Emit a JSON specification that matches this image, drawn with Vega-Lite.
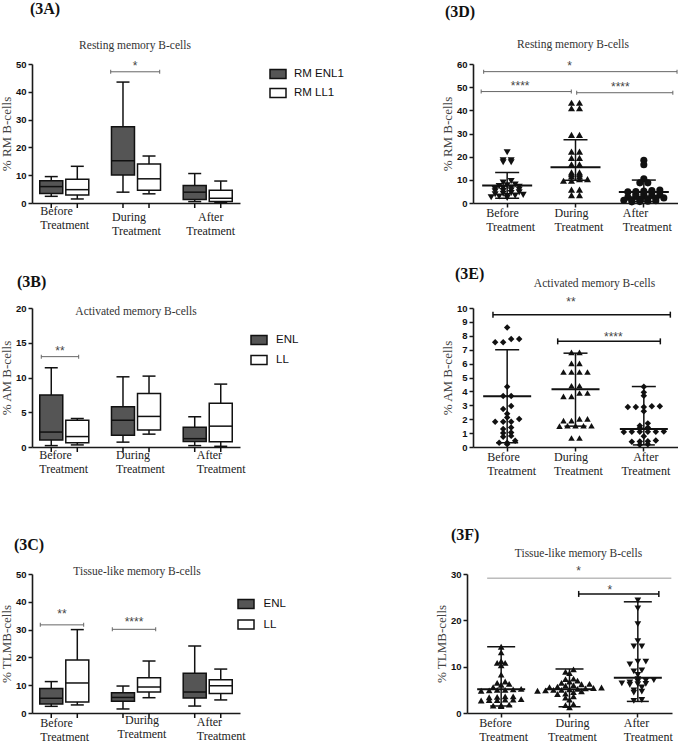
{
"$schema":"https://vega.github.io/schema/vega-lite/v6.json",
"background":"#ffffff",
"padding":{"left":0,"top":0,"right":0,"bottom":0},
"datasets":{
"boxA":[
{"g":"Before","s":"RM ENL1","min":2.4,"q1":3.4,"med":5.9,"q3":8.0,"max":9.5},
{"g":"Before","s":"RM LL1","min":1.45,"q1":2.9,"med":4.8,"q3":8.5,"max":13.2},
{"g":"During","s":"RM ENL1","min":3.9,"q1":10.1,"med":15.2,"q3":27.4,"max":43.5},
{"g":"During","s":"RM LL1","min":3.3,"q1":4.6,"med":8.7,"q3":14.0,"max":16.9},
{"g":"After","s":"RM ENL1","min":0.5,"q1":1.3,"med":3.9,"q3":6.3,"max":10.6},
{"g":"After","s":"RM LL1","min":0.2,"q1":0.5,"med":1.7,"q3":4.6,"max":7.9}],
"boxB":[
{"g":"Before","s":"ENL","min":0.2,"q1":1.0,"med":2.15,"q3":7.5,"max":11.4},
{"g":"Before","s":"LL","min":0.3,"q1":0.6,"med":1.5,"q3":3.85,"max":4.1},
{"g":"During","s":"ENL","min":0.7,"q1":1.7,"med":3.85,"q3":5.8,"max":10.1},
{"g":"During","s":"LL","min":1.85,"q1":2.45,"med":4.4,"q3":7.7,"max":10.2},
{"g":"After","s":"ENL","min":0.2,"q1":0.8,"med":1.2,"q3":2.85,"max":4.35},
{"g":"After","s":"LL","min":0.1,"q1":0.75,"med":3.0,"q3":6.3,"max":9.05}],
"boxC":[
{"g":"Before","s":"ENL","min":2.4,"q1":3.25,"med":5.3,"q3":8.85,"max":11.3},
{"g":"Before","s":"LL","min":2.9,"q1":3.95,"med":10.8,"q3":19.1,"max":30.0},
{"g":"During","s":"ENL","min":1.45,"q1":4.2,"med":5.6,"q3":7.3,"max":9.7},
{"g":"During","s":"LL","min":5.5,"q1":7.55,"med":9.35,"q3":12.7,"max":18.7},
{"g":"After","s":"ENL","min":2.5,"q1":5.4,"med":7.55,"q3":14.3,"max":24.1},
{"g":"After","s":"LL","min":4.7,"q1":7.05,"med":9.8,"q3":12.0,"max":15.8}],
"dotD":[
{"g":"Before","v":21.9},{"g":"Before","v":18.4},{"g":"Before","v":17.6},{"g":"Before","v":17.6},{"g":"Before","v":18.4},{"g":"Before","v":9.5},{"g":"Before","v":8.8},{"g":"Before","v":8.0},{"g":"Before","v":7.6},{"g":"Before","v":7.3},{"g":"Before","v":7.0},{"g":"Before","v":6.6},{"g":"Before","v":6.4},{"g":"Before","v":6.0},{"g":"Before","v":5.8},{"g":"Before","v":5.5},{"g":"Before","v":5.2},{"g":"Before","v":5.0},{"g":"Before","v":4.6},{"g":"Before","v":4.3},{"g":"Before","v":4.0},{"g":"Before","v":3.8},{"g":"Before","v":3.5},{"g":"Before","v":3.2},{"g":"Before","v":3.0},{"g":"Before","v":2.8},{"g":"Before","v":2.5},{"g":"Before","v":2.2},
{"g":"During","v":43.3},{"g":"During","v":43.3},{"g":"During","v":40.9},{"g":"During","v":40.9},{"g":"During","v":29.4},{"g":"During","v":29.4},{"g":"During","v":22.2},{"g":"During","v":22.2},{"g":"During","v":19.5},{"g":"During","v":19.5},{"g":"During","v":16.7},{"g":"During","v":16.7},{"g":"During","v":13.2},{"g":"During","v":13.2},{"g":"During","v":12.4},{"g":"During","v":12.4},{"g":"During","v":11.5},{"g":"During","v":11.5},{"g":"During","v":10.3},{"g":"During","v":10.3},{"g":"During","v":9.6},{"g":"During","v":9.6},{"g":"During","v":5.8},{"g":"During","v":5.8},{"g":"During","v":3.4},{"g":"During","v":3.4},
{"g":"After","v":18.4},{"g":"After","v":16.5},{"g":"After","v":10.5},{"g":"After","v":8.7},{"g":"After","v":8.7},{"g":"After","v":5.6},{"g":"After","v":5.4},{"g":"After","v":5.2},{"g":"After","v":5.0},{"g":"After","v":4.8},{"g":"After","v":4.6},{"g":"After","v":4.0},{"g":"After","v":3.8},{"g":"After","v":3.5},{"g":"After","v":3.2},{"g":"After","v":3.0},{"g":"After","v":2.8},{"g":"After","v":2.5},{"g":"After","v":2.2},{"g":"After","v":2.0},{"g":"After","v":1.8},{"g":"After","v":1.6},{"g":"After","v":1.4},{"g":"After","v":1.2},{"g":"After","v":1.0},{"g":"After","v":0.8},{"g":"After","v":0.6},{"g":"After","v":0.5}],
"dotE":[
{"g":"Before","v":8.6},{"g":"Before","v":7.77},{"g":"Before","v":7.53},{"g":"Before","v":7.53},{"g":"Before","v":7.77},{"g":"Before","v":4.34},{"g":"Before","v":3.67},{"g":"Before","v":3.67},{"g":"Before","v":2.95},{"g":"Before","v":2.73},{"g":"Before","v":2.4},{"g":"Before","v":2.13},{"g":"Before","v":2.01},{"g":"Before","v":1.82},{"g":"Before","v":1.82},{"g":"Before","v":1.82},{"g":"Before","v":1.41},{"g":"Before","v":1.3},{"g":"Before","v":1.05},{"g":"Before","v":1.0},{"g":"Before","v":0.8},{"g":"Before","v":0.74},{"g":"Before","v":0.45},{"g":"Before","v":0.3},{"g":"Before","v":0.3},{"g":"Before","v":0.2},
{"g":"During","v":6.81},{"g":"During","v":6.81},{"g":"During","v":6.02},{"g":"During","v":6.02},{"g":"During","v":5.4},{"g":"During","v":5.4},{"g":"During","v":5.4},{"g":"During","v":5.4},{"g":"During","v":4.41},{"g":"During","v":4.41},{"g":"During","v":3.88},{"g":"During","v":3.88},{"g":"During","v":3.64},{"g":"During","v":3.64},{"g":"During","v":2.02},{"g":"During","v":2.02},{"g":"During","v":1.9},{"g":"During","v":1.9},{"g":"During","v":1.53},{"g":"During","v":1.53},{"g":"During","v":1.53},{"g":"During","v":1.53},{"g":"During","v":1.5},{"g":"During","v":0.65},{"g":"During","v":0.65},
{"g":"After","v":4.34},{"g":"After","v":3.93},{"g":"After","v":3.69},{"g":"After","v":2.93},{"g":"After","v":2.88},{"g":"After","v":2.88},{"g":"After","v":2.88},{"g":"After","v":2.93},{"g":"After","v":2.57},{"g":"After","v":1.7},{"g":"After","v":1.53},{"g":"After","v":1.37},{"g":"After","v":1.41},{"g":"After","v":1.1},{"g":"After","v":1.1},{"g":"After","v":1.08},{"g":"After","v":1.1},{"g":"After","v":1.1},{"g":"After","v":1.12},{"g":"After","v":0.77},{"g":"After","v":0.46},{"g":"After","v":0.4},{"g":"After","v":0.38},{"g":"After","v":0.42},{"g":"After","v":0.2},{"g":"After","v":0.17}],
"dotF":[
{"g":"Before","v":14.3},{"g":"Before","v":13.1},{"g":"Before","v":11.2},{"g":"Before","v":10.8},{"g":"Before","v":10.3},{"g":"Before","v":10.8},{"g":"Before","v":8.3},{"g":"Before","v":6.8},{"g":"Before","v":6.3},{"g":"Before","v":6.1},{"g":"Before","v":6.5},{"g":"Before","v":5.6},{"g":"Before","v":5.2},{"g":"Before","v":5.0},{"g":"Before","v":5.0},{"g":"Before","v":5.1},{"g":"Before","v":4.9},{"g":"Before","v":4.8},{"g":"Before","v":3.6},{"g":"Before","v":3.5},{"g":"Before","v":3.4},{"g":"Before","v":3.6},{"g":"Before","v":3.0},{"g":"Before","v":2.9},{"g":"Before","v":2.8},{"g":"Before","v":2.8},{"g":"Before","v":2.7},{"g":"Before","v":2.9},{"g":"Before","v":1.8},{"g":"Before","v":1.6},{"g":"Before","v":1.7},{"g":"Before","v":1.5},
{"g":"During","v":9.4},{"g":"During","v":8.9},{"g":"During","v":8.6},{"g":"During","v":7.4},{"g":"During","v":7.3},{"g":"During","v":7.0},{"g":"During","v":6.8},{"g":"During","v":6.5},{"g":"During","v":6.3},{"g":"During","v":6.2},{"g":"During","v":6.0},{"g":"During","v":5.9},{"g":"During","v":5.7},{"g":"During","v":5.6},{"g":"During","v":5.5},{"g":"During","v":5.4},{"g":"During","v":5.3},{"g":"During","v":5.2},{"g":"During","v":5.1},{"g":"During","v":5.0},{"g":"During","v":5.0},{"g":"During","v":4.9},{"g":"During","v":4.8},{"g":"During","v":4.7},{"g":"During","v":4.5},{"g":"During","v":4.2},{"g":"During","v":4.1},{"g":"During","v":3.6},{"g":"During","v":3.3},{"g":"During","v":2.9},{"g":"During","v":1.9},{"g":"During","v":1.7},{"g":"During","v":1.2},
{"g":"After","v":24.3},{"g":"After","v":22.6},{"g":"After","v":19.2},{"g":"After","v":15.5},{"g":"After","v":14.4},{"g":"After","v":14.4},{"g":"After","v":11.1},{"g":"After","v":11.1},{"g":"After","v":10.5},{"g":"After","v":9.2},{"g":"After","v":9.0},{"g":"After","v":8.2},{"g":"After","v":7.3},{"g":"After","v":7.1},{"g":"After","v":7.0},{"g":"After","v":6.8},{"g":"After","v":6.6},{"g":"After","v":6.4},{"g":"After","v":6.3},{"g":"After","v":6.2},{"g":"After","v":6.1},{"g":"After","v":5.5},{"g":"After","v":4.9},{"g":"After","v":4.6},{"g":"After","v":4.4},{"g":"After","v":2.8},{"g":"After","v":2.6}],
"sumD":[{"g":"Before","c":7.6,"lo":2.0,"hi":13.2},{"g":"During","c":15.4,"lo":9.8,"hi":27.3},{"g":"After","c":4.8,"lo":0.6,"hi":9.9}],
"sumE":[{"g":"Before","c":3.65,"lo":0.3,"hi":7.0},{"g":"During","c":4.15,"lo":1.5,"hi":6.75},{"g":"After","c":1.3,"lo":0.15,"hi":4.35}],
"sumF":[{"g":"Before","c":5.1,"lo":1.5,"hi":14.3},{"g":"During","c":5.1,"lo":1.35,"hi":9.5},{"g":"After","c":7.6,"lo":2.5,"hi":24.0}],
"brk":[
{"id":"A1","from":"During","to":"During","at":"During","y":47.2,"ly":49.3,"lab":"*"},
{"id":"B1","from":"Before","to":"Before","at":"Before","y":13.0,"ly":13.8,"lab":"**"},
{"id":"C1","from":"Before","to":"Before","at":"Before","y":31.7,"ly":35.7,"lab":"**"},
{"id":"C2","from":"During","to":"During","at":"During","y":30.1,"ly":32.8,"lab":"****"},
{"id":"D1","from":"Before","to":"After","at":"During","y":56.7,"ly":59.0,"lab":"*"},
{"id":"D2","from":"Before","to":"During","at":"Before","y":48.1,"ly":50.3,"lab":"****"},
{"id":"D3","from":"During","to":"After","at":"After","y":47.6,"ly":50.1,"lab":"****"},
{"id":"E1","from":"Before","to":"After","at":"During","y":9.52,"ly":10.44,"lab":"**"},
{"id":"E2","from":"During","to":"After","at":"After","y":7.6,"ly":7.94,"lab":"****"},
{"id":"F1","from":"Before","to":"After","at":"During","y":29.1,"ly":30.7,"lab":"*"},
{"id":"F2","from":"During","to":"After","at":"After","y":25.7,"ly":26.6,"lab":"*"}],
"txt":[
{"id":"A-sub","g":"During","v":56.3,"t":"Resting memory  B-cells"},
{"id":"A-lab","g":"Before","v":69.8,"t":"(3A)"},
{"id":"B-sub","g":"During","v":19.4,"t":"Activated memory  B-cells"},
{"id":"B-lab","g":"Before","v":23.74,"t":"(3B)"},
{"id":"C-sub","g":"During","v":50.8,"t":"Tissue-like memory  B-cells"},
{"id":"C-lab","g":"Before","v":60.4,"t":"(3C)"},
{"id":"D-sub","g":"During","v":68.2,"t":"Resting memory  B-cells"},
{"id":"D-lab","g":"Before","v":82.4,"t":"(3D)"},
{"id":"E-sub","g":"During","v":11.73,"t":"Activated memory  B-cells"},
{"id":"E-lab","g":"Before","v":12.45,"t":"(3E)"},
{"id":"F-sub","g":"During","v":34.3,"t":"Tissue-like memory  B-cells"},
{"id":"F-lab","g":"Before","v":38.5,"t":"(3F)"}]
},
"spacing":29,
"resolve":{"scale":{"fill":"independent","shape":"independent","xOffset":"independent"},"legend":{"fill":"independent","shape":"independent"}},
"vconcat":[
{"bounds":"flush","spacing":233,"resolve":{"scale":{"fill":"independent","shape":"independent","xOffset":"independent"},"legend":{"fill":"independent","shape":"independent"}},"hconcat":[
{"width":208,"height":139,"layer":[
{"data":{"name":"boxA"},"mark":{"type":"rule","color":"#111111","strokeWidth":1.5},
 "encoding":{
  "x":{"field":"g","type":"nominal","scale":{"domain":["Before","During","After"],"paddingInner":0.1,"paddingOuter":0},"axis":{"title":null,"ticks":false,"labelExpr":"[datum.label, 'Treatment']","labelAlign":{"condition":{"test":"datum.value == 'After'","value":"center"},"value":"left"},"labelOffset":{"condition":{"test":"datum.value == 'After'","value":3},"value":-24},"labelPadding":{"condition":{"test":"datum.value == 'Before'","value":2},"value":8}}},
  "xOffset":{"field":"s","type":"nominal","scale":{"domain":["RM ENL1","RM LL1"],"paddingInner":0,"paddingOuter":0.24}},
  "y":{"field":"min","type":"quantitative","scale":{"domain":[0,50],"nice":false},"axis":{"title":"% RM B-cells","values":[0,10,20,30,40,50],"tickCount":20,"format":"d","labelOverlap":false}},
  "y2":{"field":"max"}}},
{"data":{"name":"boxA"},"mark":{"type":"bar","size":23,"stroke":"#111111","strokeWidth":1.5,"opacity":1},
 "encoding":{"x":{"field":"g","type":"nominal"},"xOffset":{"field":"s","type":"nominal"},"y":{"field":"q1","type":"quantitative"},"y2":{"field":"q3"},
  "fill":{"field":"s","type":"nominal","scale":{"domain":["RM ENL1","RM LL1"],"range":["#555555","#ffffff"]},"legend":{"title":null,"orient":"none","legendX":240,"legendY":4,"symbolType":"M-1.6,-0.9H1.6V0.9H-1.6Z","symbolSize":100,"symbolStrokeColor":"#111111","symbolStrokeWidth":1.5,"labelFont":"Liberation Sans","labelFontSize":11.5,"labelColor":"#111111","labelOffset":10,"rowPadding":3,"padding":0}}}},
{"data":{"name":"boxA"},"mark":{"type":"tick","size":23,"thickness":1.5,"color":"#111111","opacity":1},"encoding":{"x":{"field":"g","type":"nominal"},"xOffset":{"field":"s","type":"nominal"},"y":{"field":"med","type":"quantitative"}}},
{"data":{"name":"boxA"},"mark":{"type":"tick","size":13,"thickness":1.5,"color":"#111111","opacity":1},"encoding":{"x":{"field":"g","type":"nominal"},"xOffset":{"field":"s","type":"nominal"},"y":{"field":"min","type":"quantitative"}}},
{"data":{"name":"boxA"},"mark":{"type":"tick","size":13,"thickness":1.5,"color":"#111111","opacity":1},"encoding":{"x":{"field":"g","type":"nominal"},"xOffset":{"field":"s","type":"nominal"},"y":{"field":"max","type":"quantitative"}}},
{"data":{"name":"boxA"},"mark":{"type":"tick","orient":"vertical","size":5,"thickness":1.5,"color":"#111111","opacity":1,"yOffset":2.5},"encoding":{"x":{"field":"g","type":"nominal"},"xOffset":{"field":"s","type":"nominal"},"y":{"datum":0,"type":"quantitative"}}},
{"data":{"name":"brk"},"transform":[{"filter":"datum.id == 'A1'"}],"mark":{"type":"rule","color":"#666666","strokeWidth":1,"xOffset":-25.3,"x2Offset":23.7},"encoding":{"x":{"field":"from","type":"nominal"},"x2":{"field":"to"},"y":{"field":"y","type":"quantitative"}}},
{"data":{"name":"brk"},"transform":[{"filter":"datum.id == 'A1'"}],"mark":{"type":"tick","orient":"vertical","size":4,"thickness":1,"color":"#666666","opacity":1,"xOffset":-25.3},"encoding":{"x":{"field":"from","type":"nominal"},"y":{"field":"y","type":"quantitative"}}},
{"data":{"name":"brk"},"transform":[{"filter":"datum.id == 'A1'"}],"mark":{"type":"tick","orient":"vertical","size":4,"thickness":1,"color":"#666666","opacity":1,"xOffset":23.7},"encoding":{"x":{"field":"to","type":"nominal"},"y":{"field":"y","type":"quantitative"}}},
{"data":{"name":"brk"},"transform":[{"filter":"datum.id == 'A1'"}],"mark":{"type":"text","font":"Liberation Sans","fontSize":12,"color":"#444444","align":"center","baseline":"middle","dx":-1},"encoding":{"x":{"field":"at","type":"nominal"},"y":{"field":"ly","type":"quantitative"},"text":{"field":"lab"}}},
{"data":{"name":"txt"},"transform":[{"filter":"datum.id == 'A-sub'"}],"mark":{"type":"text","font":"Liberation Serif","fontSize":11.5,"color":"#333333","align":"center","baseline":"middle","dx":-1},"encoding":{"x":{"field":"g","type":"nominal"},"y":{"field":"v","type":"quantitative"},"text":{"field":"t"}}},
{"data":{"name":"txt"},"transform":[{"filter":"datum.id == 'A-lab'"}],"mark":{"type":"text","font":"Liberation Serif","fontSize":16,"fontWeight":"bold","color":"#111111","align":"left","baseline":"middle","dx":-34.3},"encoding":{"x":{"field":"g","type":"nominal"},"y":{"field":"v","type":"quantitative"},"text":{"field":"t"}}}
]},
{"width":205,"height":139,"layer":[
{"data":{"name":"dotD"},
 "transform":[{"bin":{"step":1.2},"field":"v","as":["b0","b1"]},{"joinaggregate":[{"op":"count","as":"cnt"}],"groupby":["g","b0"]},{"window":[{"op":"row_number","as":"rn"}],"groupby":["g","b0"],"sort":[{"field":"v","order":"ascending"}]},{"calculate":"datum.rn - 1 - (datum.cnt - 1) / 2","as":"off"}],
 "mark":{"type":"point","filled":true,"color":"#111111","size":50,"opacity":1},
 "encoding":{
  "x":{"field":"g","type":"nominal","scale":{"domain":["Before","During","After"],"paddingInner":0,"paddingOuter":0},"axis":{"title":null,"ticks":true,"tickSize":4,"labelExpr":"[datum.label, 'Treatment']","labelAlign":"left","labelOffset":-21,"labelPadding":0}},
  "xOffset":{"field":"off","type":"quantitative","scale":{"domain":[-4.27,4.27],"nice":false,"zero":false}},
  "y":{"field":"v","type":"quantitative","scale":{"domain":[0,60],"nice":false},"axis":{"title":"% RM B-cells","values":[0,10,20,30,40,50,60],"tickCount":20,"format":"d","labelOverlap":false}},
  "shape":{"field":"g","type":"nominal","scale":{"domain":["Before","During","After"],"range":["triangle-down","triangle-up","circle"]},"legend":null}}},
{"data":{"name":"sumD"},"mark":{"type":"rule","color":"#111111","strokeWidth":1.5},"encoding":{"x":{"field":"g","type":"nominal"},"y":{"field":"lo","type":"quantitative"},"y2":{"field":"hi"}}},
{"data":{"name":"sumD"},"mark":{"type":"tick","size":50,"thickness":2,"color":"#111111","opacity":1},"encoding":{"x":{"field":"g","type":"nominal"},"y":{"field":"c","type":"quantitative"}}},
{"data":{"name":"sumD"},"mark":{"type":"tick","size":24,"thickness":1.5,"color":"#111111","opacity":1},"encoding":{"x":{"field":"g","type":"nominal"},"y":{"field":"hi","type":"quantitative"}}},
{"data":{"name":"sumD"},"mark":{"type":"tick","size":24,"thickness":1.5,"color":"#111111","opacity":1},"encoding":{"x":{"field":"g","type":"nominal"},"y":{"field":"lo","type":"quantitative"}}},
{"data":{"name":"brk"},"transform":[{"filter":"datum.id == 'D1'"}],"mark":{"type":"rule","color":"#666666","strokeWidth":1,"xOffset":-23.5,"x2Offset":33.2},"encoding":{"x":{"field":"from","type":"nominal"},"x2":{"field":"to"},"y":{"field":"y","type":"quantitative"}}},
{"data":{"name":"brk"},"transform":[{"filter":"datum.id == 'D1'"}],"mark":{"type":"tick","orient":"vertical","size":4,"thickness":1,"color":"#666666","opacity":1,"xOffset":-23.5},"encoding":{"x":{"field":"from","type":"nominal"},"y":{"field":"y","type":"quantitative"}}},
{"data":{"name":"brk"},"transform":[{"filter":"datum.id == 'D1'"}],"mark":{"type":"tick","orient":"vertical","size":4,"thickness":1,"color":"#666666","opacity":1,"xOffset":33.2},"encoding":{"x":{"field":"to","type":"nominal"},"y":{"field":"y","type":"quantitative"}}},
{"data":{"name":"brk"},"transform":[{"filter":"datum.id == 'D1'"}],"mark":{"type":"text","font":"Liberation Sans","fontSize":12,"color":"#444444","align":"center","baseline":"middle","dx":-6},"encoding":{"x":{"field":"at","type":"nominal"},"y":{"field":"ly","type":"quantitative"},"text":{"field":"lab"}}},
{"data":{"name":"brk"},"transform":[{"filter":"datum.id == 'D2'"}],"mark":{"type":"rule","color":"#666666","strokeWidth":1,"xOffset":-26,"x2Offset":-4.2},"encoding":{"x":{"field":"from","type":"nominal"},"x2":{"field":"to"},"y":{"field":"y","type":"quantitative"}}},
{"data":{"name":"brk"},"transform":[{"filter":"datum.id == 'D2'"}],"mark":{"type":"tick","orient":"vertical","size":4,"thickness":1,"color":"#666666","opacity":1,"xOffset":-26},"encoding":{"x":{"field":"from","type":"nominal"},"y":{"field":"y","type":"quantitative"}}},
{"data":{"name":"brk"},"transform":[{"filter":"datum.id == 'D2'"}],"mark":{"type":"tick","orient":"vertical","size":4,"thickness":1,"color":"#666666","opacity":1,"xOffset":-4.2},"encoding":{"x":{"field":"to","type":"nominal"},"y":{"field":"y","type":"quantitative"}}},
{"data":{"name":"brk"},"transform":[{"filter":"datum.id == 'D2'"}],"mark":{"type":"text","font":"Liberation Sans","fontSize":12,"color":"#444444","align":"center","baseline":"middle","dx":13},"encoding":{"x":{"field":"at","type":"nominal"},"y":{"field":"ly","type":"quantitative"},"text":{"field":"lab"}}},
{"data":{"name":"brk"},"transform":[{"filter":"datum.id == 'D3'"}],"mark":{"type":"rule","color":"#666666","strokeWidth":1,"xOffset":1.2,"x2Offset":29},"encoding":{"x":{"field":"from","type":"nominal"},"x2":{"field":"to"},"y":{"field":"y","type":"quantitative"}}},
{"data":{"name":"brk"},"transform":[{"filter":"datum.id == 'D3'"}],"mark":{"type":"tick","orient":"vertical","size":4,"thickness":1,"color":"#666666","opacity":1,"xOffset":1.2},"encoding":{"x":{"field":"from","type":"nominal"},"y":{"field":"y","type":"quantitative"}}},
{"data":{"name":"brk"},"transform":[{"filter":"datum.id == 'D3'"}],"mark":{"type":"tick","orient":"vertical","size":4,"thickness":1,"color":"#666666","opacity":1,"xOffset":29},"encoding":{"x":{"field":"to","type":"nominal"},"y":{"field":"y","type":"quantitative"}}},
{"data":{"name":"brk"},"transform":[{"filter":"datum.id == 'D3'"}],"mark":{"type":"text","font":"Liberation Sans","fontSize":12,"color":"#444444","align":"center","baseline":"middle","dx":-23.5},"encoding":{"x":{"field":"at","type":"nominal"},"y":{"field":"ly","type":"quantitative"},"text":{"field":"lab"}}},
{"data":{"name":"txt"},"transform":[{"filter":"datum.id == 'D-sub'"}],"mark":{"type":"text","font":"Liberation Serif","fontSize":11.5,"color":"#333333","align":"center","baseline":"middle","dx":-2.5},"encoding":{"x":{"field":"g","type":"nominal"},"y":{"field":"v","type":"quantitative"},"text":{"field":"t"}}},
{"data":{"name":"txt"},"transform":[{"filter":"datum.id == 'D-lab'"}],"mark":{"type":"text","font":"Liberation Serif","fontSize":16,"fontWeight":"bold","color":"#111111","align":"left","baseline":"middle","dx":-62.2},"encoding":{"x":{"field":"g","type":"nominal"},"y":{"field":"v","type":"quantitative"},"text":{"field":"t"}}}
]}
]},
{"spacing":50,"resolve":{"scale":{"fill":"independent","shape":"independent","xOffset":"independent"},"legend":{"fill":"independent","shape":"independent"}},"vconcat":[
{"bounds":"flush","spacing":233,"resolve":{"scale":{"fill":"independent","shape":"independent","xOffset":"independent"},"legend":{"fill":"independent","shape":"independent"}},"hconcat":[
{"width":208,"height":139,"layer":[
{"data":{"name":"boxB"},"mark":{"type":"rule","color":"#111111","strokeWidth":1.5},
 "encoding":{
  "x":{"field":"g","type":"nominal","scale":{"domain":["Before","During","After"],"paddingInner":0.1,"paddingOuter":0},"axis":{"title":null,"ticks":false,"labelExpr":"[datum.label, 'Treatment']","labelAlign":"left","labelOffset":{"condition":[{"test":"datum.value == 'Before'","value":-25},{"test":"datum.value == 'During'","value":-20}],"value":-11},"labelPadding":2}},
  "xOffset":{"field":"s","type":"nominal","scale":{"domain":["ENL","LL"],"paddingInner":0,"paddingOuter":0.24}},
  "y":{"field":"min","type":"quantitative","scale":{"domain":[0,20],"nice":false},"axis":{"title":"% AM B-cells","values":[0,5,10,15,20],"tickCount":20,"format":"d","labelOverlap":false}},
  "y2":{"field":"max"}}},
{"data":{"name":"boxB"},"mark":{"type":"bar","size":23,"stroke":"#111111","strokeWidth":1.5,"opacity":1},
 "encoding":{"x":{"field":"g","type":"nominal"},"xOffset":{"field":"s","type":"nominal"},"y":{"field":"q1","type":"quantitative"},"y2":{"field":"q3"},
  "fill":{"field":"s","type":"nominal","scale":{"domain":["ENL","LL"],"range":["#555555","#ffffff"]},"legend":{"title":null,"orient":"none","legendX":221,"legendY":26,"symbolType":"M-1.6,-0.9H1.6V0.9H-1.6Z","symbolSize":100,"symbolStrokeColor":"#111111","symbolStrokeWidth":1.5,"labelFont":"Liberation Sans","labelFontSize":11.5,"labelColor":"#111111","labelOffset":11,"rowPadding":4,"padding":0}}}},
{"data":{"name":"boxB"},"mark":{"type":"tick","size":23,"thickness":1.5,"color":"#111111","opacity":1},"encoding":{"x":{"field":"g","type":"nominal"},"xOffset":{"field":"s","type":"nominal"},"y":{"field":"med","type":"quantitative"}}},
{"data":{"name":"boxB"},"mark":{"type":"tick","size":13,"thickness":1.5,"color":"#111111","opacity":1},"encoding":{"x":{"field":"g","type":"nominal"},"xOffset":{"field":"s","type":"nominal"},"y":{"field":"min","type":"quantitative"}}},
{"data":{"name":"boxB"},"mark":{"type":"tick","size":13,"thickness":1.5,"color":"#111111","opacity":1},"encoding":{"x":{"field":"g","type":"nominal"},"xOffset":{"field":"s","type":"nominal"},"y":{"field":"max","type":"quantitative"}}},
{"data":{"name":"boxB"},"mark":{"type":"tick","orient":"vertical","size":5,"thickness":1.5,"color":"#111111","opacity":1,"yOffset":2.5},"encoding":{"x":{"field":"g","type":"nominal"},"xOffset":{"field":"s","type":"nominal"},"y":{"datum":0,"type":"quantitative"}}},
{"data":{"name":"brk"},"transform":[{"filter":"datum.id == 'B1'"}],"mark":{"type":"rule","color":"#666666","strokeWidth":1,"xOffset":-23,"x2Offset":14.4},"encoding":{"x":{"field":"from","type":"nominal"},"x2":{"field":"to"},"y":{"field":"y","type":"quantitative"}}},
{"data":{"name":"brk"},"transform":[{"filter":"datum.id == 'B1'"}],"mark":{"type":"tick","orient":"vertical","size":4,"thickness":1,"color":"#666666","opacity":1,"xOffset":-23},"encoding":{"x":{"field":"from","type":"nominal"},"y":{"field":"y","type":"quantitative"}}},
{"data":{"name":"brk"},"transform":[{"filter":"datum.id == 'B1'"}],"mark":{"type":"tick","orient":"vertical","size":4,"thickness":1,"color":"#666666","opacity":1,"xOffset":14.4},"encoding":{"x":{"field":"to","type":"nominal"},"y":{"field":"y","type":"quantitative"}}},
{"data":{"name":"brk"},"transform":[{"filter":"datum.id == 'B1'"}],"mark":{"type":"text","font":"Liberation Sans","fontSize":12,"color":"#444444","align":"center","baseline":"middle","dx":-4.3},"encoding":{"x":{"field":"at","type":"nominal"},"y":{"field":"ly","type":"quantitative"},"text":{"field":"lab"}}},
{"data":{"name":"txt"},"transform":[{"filter":"datum.id == 'B-sub'"}],"mark":{"type":"text","font":"Liberation Serif","fontSize":11.5,"color":"#333333","align":"center","baseline":"middle","dx":0},"encoding":{"x":{"field":"g","type":"nominal"},"y":{"field":"v","type":"quantitative"},"text":{"field":"t"}}},
{"data":{"name":"txt"},"transform":[{"filter":"datum.id == 'B-lab'"}],"mark":{"type":"text","font":"Liberation Serif","fontSize":16,"fontWeight":"bold","color":"#111111","align":"left","baseline":"middle","dx":-47.3},"encoding":{"x":{"field":"g","type":"nominal"},"y":{"field":"v","type":"quantitative"},"text":{"field":"t"}}}
]},
{"width":205,"height":139,"layer":[
{"data":{"name":"dotE"},
 "transform":[{"bin":{"step":0.3},"field":"v","as":["b0","b1"]},{"joinaggregate":[{"op":"count","as":"cnt"}],"groupby":["g","b0"]},{"window":[{"op":"row_number","as":"rn"}],"groupby":["g","b0"],"sort":[{"field":"v","order":"ascending"}]},{"calculate":"datum.rn - 1 - (datum.cnt - 1) / 2","as":"off"}],
 "mark":{"type":"point","filled":true,"color":"#111111","size":42,"opacity":1},
 "encoding":{
  "x":{"field":"g","type":"nominal","scale":{"domain":["Before","During","After"],"paddingInner":0,"paddingOuter":0},"axis":{"title":null,"ticks":true,"tickSize":4,"labelExpr":"[datum.label, 'Treatment']","labelAlign":{"condition":{"test":"datum.value == 'After'","value":"center"},"value":"left"},"labelOffset":{"condition":[{"test":"datum.value == 'Before'","value":-20},{"test":"datum.value == 'During'","value":-21.5}],"value":2},"labelPadding":0}},
  "xOffset":{"field":"off","type":"quantitative","scale":{"domain":[-4.27,4.27],"nice":false,"zero":false}},
  "y":{"field":"v","type":"quantitative","scale":{"domain":[0,10],"nice":false},"axis":{"title":"% AM B-cells","values":[0,1,2,3,4,5,6,7,8,9,10],"tickCount":20,"format":"d","labelOverlap":false}},
  "shape":{"field":"g","type":"nominal","scale":{"domain":["Before","During","After"],"range":["diamond","triangle-up","diamond"]},"legend":null}}},
{"data":{"name":"sumE"},"mark":{"type":"rule","color":"#111111","strokeWidth":1.5},"encoding":{"x":{"field":"g","type":"nominal"},"y":{"field":"lo","type":"quantitative"},"y2":{"field":"hi"}}},
{"data":{"name":"sumE"},"mark":{"type":"tick","size":48,"thickness":2,"color":"#111111","opacity":1},"encoding":{"x":{"field":"g","type":"nominal"},"y":{"field":"c","type":"quantitative"}}},
{"data":{"name":"sumE"},"mark":{"type":"tick","size":24,"thickness":1.5,"color":"#111111","opacity":1},"encoding":{"x":{"field":"g","type":"nominal"},"y":{"field":"hi","type":"quantitative"}}},
{"data":{"name":"sumE"},"mark":{"type":"tick","size":22,"thickness":1.5,"color":"#111111","opacity":1},"encoding":{"x":{"field":"g","type":"nominal"},"y":{"field":"lo","type":"quantitative"}}},
{"data":{"name":"brk"},"transform":[{"filter":"datum.id == 'E1'"}],"mark":{"type":"rule","color":"#111111","strokeWidth":1.5,"xOffset":-14.2,"x2Offset":26.5},"encoding":{"x":{"field":"from","type":"nominal"},"x2":{"field":"to"},"y":{"field":"y","type":"quantitative"}}},
{"data":{"name":"brk"},"transform":[{"filter":"datum.id == 'E1'"}],"mark":{"type":"tick","orient":"vertical","size":6,"thickness":1.5,"color":"#111111","opacity":1,"xOffset":-14.2},"encoding":{"x":{"field":"from","type":"nominal"},"y":{"field":"y","type":"quantitative"}}},
{"data":{"name":"brk"},"transform":[{"filter":"datum.id == 'E1'"}],"mark":{"type":"tick","orient":"vertical","size":6,"thickness":1.5,"color":"#111111","opacity":1,"xOffset":26.5},"encoding":{"x":{"field":"to","type":"nominal"},"y":{"field":"y","type":"quantitative"}}},
{"data":{"name":"brk"},"transform":[{"filter":"datum.id == 'E1'"}],"mark":{"type":"text","font":"Liberation Sans","fontSize":12,"color":"#444444","align":"center","baseline":"middle","dx":-4.5},"encoding":{"x":{"field":"at","type":"nominal"},"y":{"field":"ly","type":"quantitative"},"text":{"field":"lab"}}},
{"data":{"name":"brk"},"transform":[{"filter":"datum.id == 'E2'"}],"mark":{"type":"rule","color":"#111111","strokeWidth":1.5,"xOffset":-17.8,"x2Offset":16.5},"encoding":{"x":{"field":"from","type":"nominal"},"x2":{"field":"to"},"y":{"field":"y","type":"quantitative"}}},
{"data":{"name":"brk"},"transform":[{"filter":"datum.id == 'E2'"}],"mark":{"type":"tick","orient":"vertical","size":6,"thickness":1.5,"color":"#111111","opacity":1,"xOffset":-17.8},"encoding":{"x":{"field":"from","type":"nominal"},"y":{"field":"y","type":"quantitative"}}},
{"data":{"name":"brk"},"transform":[{"filter":"datum.id == 'E2'"}],"mark":{"type":"tick","orient":"vertical","size":6,"thickness":1.5,"color":"#111111","opacity":1,"xOffset":16.5},"encoding":{"x":{"field":"to","type":"nominal"},"y":{"field":"y","type":"quantitative"}}},
{"data":{"name":"brk"},"transform":[{"filter":"datum.id == 'E2'"}],"mark":{"type":"text","font":"Liberation Sans","fontSize":12,"color":"#444444","align":"center","baseline":"middle","dx":-30.5},"encoding":{"x":{"field":"at","type":"nominal"},"y":{"field":"ly","type":"quantitative"},"text":{"field":"lab"}}},
{"data":{"name":"txt"},"transform":[{"filter":"datum.id == 'E-sub'"}],"mark":{"type":"text","font":"Liberation Serif","fontSize":11.5,"color":"#333333","align":"center","baseline":"middle","dx":19},"encoding":{"x":{"field":"g","type":"nominal"},"y":{"field":"v","type":"quantitative"},"text":{"field":"t"}}},
{"data":{"name":"txt"},"transform":[{"filter":"datum.id == 'E-lab'"}],"mark":{"type":"text","font":"Liberation Serif","fontSize":16,"fontWeight":"bold","color":"#111111","align":"left","baseline":"middle","dx":-52.2},"encoding":{"x":{"field":"g","type":"nominal"},"y":{"field":"v","type":"quantitative"},"text":{"field":"t"}}}
]}
]},
{"bounds":"flush","spacing":227,"resolve":{"scale":{"fill":"independent","shape":"independent","xOffset":"independent"},"legend":{"fill":"independent","shape":"independent"}},"hconcat":[
{"width":208,"height":139,"layer":[
{"data":{"name":"boxC"},"mark":{"type":"rule","color":"#111111","strokeWidth":1.5},
 "encoding":{
  "x":{"field":"g","type":"nominal","scale":{"domain":["Before","During","After"],"paddingInner":0.1,"paddingOuter":0},"axis":{"title":null,"ticks":false,"labelExpr":"[datum.label, 'Treatment']","labelAlign":{"condition":{"test":"datum.value == 'During'","value":"center"},"value":"left"},"labelOffset":{"condition":[{"test":"datum.value == 'Before'","value":-24},{"test":"datum.value == 'During'","value":6}],"value":-11},"labelPadding":{"condition":[{"test":"datum.value == 'Before'","value":4},{"test":"datum.value == 'During'","value":1}],"value":3}}},
  "xOffset":{"field":"s","type":"nominal","scale":{"domain":["ENL","LL"],"paddingInner":0,"paddingOuter":0.24}},
  "y":{"field":"min","type":"quantitative","scale":{"domain":[0,50],"nice":false},"axis":{"title":"% TLMB-cells","values":[0,10,20,30,40,50],"tickCount":20,"format":"d","labelOverlap":false}},
  "y2":{"field":"max"}}},
{"data":{"name":"boxC"},"mark":{"type":"bar","size":23,"stroke":"#111111","strokeWidth":1.5,"opacity":1},
 "encoding":{"x":{"field":"g","type":"nominal"},"xOffset":{"field":"s","type":"nominal"},"y":{"field":"q1","type":"quantitative"},"y2":{"field":"q3"},
  "fill":{"field":"s","type":"nominal","scale":{"domain":["ENL","LL"],"range":["#555555","#ffffff"]},"legend":{"title":null,"orient":"none","legendX":208,"legendY":24,"symbolType":"M-1.6,-0.9H1.6V0.9H-1.6Z","symbolSize":100,"symbolStrokeColor":"#111111","symbolStrokeWidth":1.5,"labelFont":"Liberation Sans","labelFontSize":11.5,"labelColor":"#111111","labelOffset":11.5,"rowPadding":4.5,"padding":0}}}},
{"data":{"name":"boxC"},"mark":{"type":"tick","size":23,"thickness":1.5,"color":"#111111","opacity":1},"encoding":{"x":{"field":"g","type":"nominal"},"xOffset":{"field":"s","type":"nominal"},"y":{"field":"med","type":"quantitative"}}},
{"data":{"name":"boxC"},"mark":{"type":"tick","size":13,"thickness":1.5,"color":"#111111","opacity":1},"encoding":{"x":{"field":"g","type":"nominal"},"xOffset":{"field":"s","type":"nominal"},"y":{"field":"min","type":"quantitative"}}},
{"data":{"name":"boxC"},"mark":{"type":"tick","size":13,"thickness":1.5,"color":"#111111","opacity":1},"encoding":{"x":{"field":"g","type":"nominal"},"xOffset":{"field":"s","type":"nominal"},"y":{"field":"max","type":"quantitative"}}},
{"data":{"name":"boxC"},"mark":{"type":"tick","orient":"vertical","size":5,"thickness":1.5,"color":"#111111","opacity":1,"yOffset":2.5},"encoding":{"x":{"field":"g","type":"nominal"},"xOffset":{"field":"s","type":"nominal"},"y":{"datum":0,"type":"quantitative"}}},
{"data":{"name":"brk"},"transform":[{"filter":"datum.id == 'C1'"}],"mark":{"type":"rule","color":"#666666","strokeWidth":1,"xOffset":-24,"x2Offset":19.4},"encoding":{"x":{"field":"from","type":"nominal"},"x2":{"field":"to"},"y":{"field":"y","type":"quantitative"}}},
{"data":{"name":"brk"},"transform":[{"filter":"datum.id == 'C1'"}],"mark":{"type":"tick","orient":"vertical","size":4,"thickness":1,"color":"#666666","opacity":1,"xOffset":-24},"encoding":{"x":{"field":"from","type":"nominal"},"y":{"field":"y","type":"quantitative"}}},
{"data":{"name":"brk"},"transform":[{"filter":"datum.id == 'C1'"}],"mark":{"type":"tick","orient":"vertical","size":4,"thickness":1,"color":"#666666","opacity":1,"xOffset":19.4},"encoding":{"x":{"field":"to","type":"nominal"},"y":{"field":"y","type":"quantitative"}}},
{"data":{"name":"brk"},"transform":[{"filter":"datum.id == 'C1'"}],"mark":{"type":"text","font":"Liberation Sans","fontSize":12,"color":"#444444","align":"center","baseline":"middle","dx":-2.3},"encoding":{"x":{"field":"at","type":"nominal"},"y":{"field":"ly","type":"quantitative"},"text":{"field":"lab"}}},
{"data":{"name":"brk"},"transform":[{"filter":"datum.id == 'C2'"}],"mark":{"type":"rule","color":"#666666","strokeWidth":1,"xOffset":-23.7,"x2Offset":19.7},"encoding":{"x":{"field":"from","type":"nominal"},"x2":{"field":"to"},"y":{"field":"y","type":"quantitative"}}},
{"data":{"name":"brk"},"transform":[{"filter":"datum.id == 'C2'"}],"mark":{"type":"tick","orient":"vertical","size":4,"thickness":1,"color":"#666666","opacity":1,"xOffset":-23.7},"encoding":{"x":{"field":"from","type":"nominal"},"y":{"field":"y","type":"quantitative"}}},
{"data":{"name":"brk"},"transform":[{"filter":"datum.id == 'C2'"}],"mark":{"type":"tick","orient":"vertical","size":4,"thickness":1,"color":"#666666","opacity":1,"xOffset":19.7},"encoding":{"x":{"field":"to","type":"nominal"},"y":{"field":"y","type":"quantitative"}}},
{"data":{"name":"brk"},"transform":[{"filter":"datum.id == 'C2'"}],"mark":{"type":"text","font":"Liberation Sans","fontSize":12,"color":"#444444","align":"center","baseline":"middle","dx":-2},"encoding":{"x":{"field":"at","type":"nominal"},"y":{"field":"ly","type":"quantitative"},"text":{"field":"lab"}}},
{"data":{"name":"txt"},"transform":[{"filter":"datum.id == 'C-sub'"}],"mark":{"type":"text","font":"Liberation Serif","fontSize":11.5,"color":"#333333","align":"center","baseline":"middle","dx":1},"encoding":{"x":{"field":"g","type":"nominal"},"y":{"field":"v","type":"quantitative"},"text":{"field":"t"}}},
{"data":{"name":"txt"},"transform":[{"filter":"datum.id == 'C-lab'"}],"mark":{"type":"text","font":"Liberation Serif","fontSize":16,"fontWeight":"bold","color":"#111111","align":"left","baseline":"middle","dx":-50.3},"encoding":{"x":{"field":"g","type":"nominal"},"y":{"field":"v","type":"quantitative"},"text":{"field":"t"}}}
]},
{"width":205,"height":139,"layer":[
{"data":{"name":"dotF"},
 "transform":[{"bin":{"step":0.8},"field":"v","as":["b0","b1"]},{"joinaggregate":[{"op":"count","as":"cnt"}],"groupby":["g","b0"]},{"window":[{"op":"row_number","as":"rn"}],"groupby":["g","b0"],"sort":[{"field":"v","order":"ascending"}]},{"calculate":"datum.rn - 1 - (datum.cnt - 1) / 2","as":"off"}],
 "mark":{"type":"point","filled":true,"color":"#111111","size":45,"opacity":1},
 "encoding":{
  "x":{"field":"g","type":"nominal","scale":{"domain":["Before","During","After"],"paddingInner":0,"paddingOuter":0},"axis":{"title":null,"ticks":true,"tickSize":4,"labelExpr":"[datum.label, 'Treatment']","labelAlign":{"condition":{"test":"datum.value == 'During'","value":"center"},"value":"left"},"labelOffset":{"condition":[{"test":"datum.value == 'Before'","value":-22},{"test":"datum.value == 'During'","value":3}],"value":-14},"labelPadding":0}},
  "xOffset":{"field":"off","type":"quantitative","scale":{"domain":[-4.27,4.27],"nice":false,"zero":false}},
  "y":{"field":"v","type":"quantitative","scale":{"domain":[0,30],"nice":false},"axis":{"title":"% TLMB-cells","values":[0,10,20,30],"tickCount":20,"format":"d","labelOverlap":false}},
  "shape":{"field":"g","type":"nominal","scale":{"domain":["Before","During","After"],"range":["triangle-up","triangle-up","triangle-down"]},"legend":null}}},
{"data":{"name":"sumF"},"mark":{"type":"rule","color":"#111111","strokeWidth":1.5},"encoding":{"x":{"field":"g","type":"nominal"},"y":{"field":"lo","type":"quantitative"},"y2":{"field":"hi"}}},
{"data":{"name":"sumF"},"mark":{"type":"tick","size":48,"thickness":2,"color":"#111111","opacity":1},"encoding":{"x":{"field":"g","type":"nominal"},"y":{"field":"c","type":"quantitative"}}},
{"data":{"name":"sumF"},"mark":{"type":"tick","size":28,"thickness":1.5,"color":"#111111","opacity":1},"encoding":{"x":{"field":"g","type":"nominal"},"y":{"field":"hi","type":"quantitative"}}},
{"data":{"name":"sumF"},"mark":{"type":"tick","size":22,"thickness":1.5,"color":"#111111","opacity":1},"encoding":{"x":{"field":"g","type":"nominal"},"y":{"field":"lo","type":"quantitative"}}},
{"data":{"name":"brk"},"transform":[{"filter":"datum.id == 'F1'"}],"mark":{"type":"rule","color":"#999999","strokeWidth":1,"xOffset":-14,"x2Offset":33.5},"encoding":{"x":{"field":"from","type":"nominal"},"x2":{"field":"to"},"y":{"field":"y","type":"quantitative"}}},
{"data":{"name":"brk"},"transform":[{"filter":"datum.id == 'F1'"}],"mark":{"type":"text","font":"Liberation Sans","fontSize":12,"color":"#444444","align":"center","baseline":"middle","dx":9},"encoding":{"x":{"field":"at","type":"nominal"},"y":{"field":"ly","type":"quantitative"},"text":{"field":"lab"}}},
{"data":{"name":"brk"},"transform":[{"filter":"datum.id == 'F2'"}],"mark":{"type":"rule","color":"#111111","strokeWidth":1.5,"xOffset":9.2,"x2Offset":21},"encoding":{"x":{"field":"from","type":"nominal"},"x2":{"field":"to"},"y":{"field":"y","type":"quantitative"}}},
{"data":{"name":"brk"},"transform":[{"filter":"datum.id == 'F2'"}],"mark":{"type":"tick","orient":"vertical","size":6,"thickness":1.5,"color":"#111111","opacity":1,"xOffset":9.2},"encoding":{"x":{"field":"from","type":"nominal"},"y":{"field":"y","type":"quantitative"}}},
{"data":{"name":"brk"},"transform":[{"filter":"datum.id == 'F2'"}],"mark":{"type":"tick","orient":"vertical","size":6,"thickness":1.5,"color":"#111111","opacity":1,"xOffset":21},"encoding":{"x":{"field":"to","type":"nominal"},"y":{"field":"y","type":"quantitative"}}},
{"data":{"name":"brk"},"transform":[{"filter":"datum.id == 'F2'"}],"mark":{"type":"text","font":"Liberation Sans","fontSize":12,"color":"#444444","align":"center","baseline":"middle","dx":-28},"encoding":{"x":{"field":"at","type":"nominal"},"y":{"field":"ly","type":"quantitative"},"text":{"field":"lab"}}},
{"data":{"name":"txt"},"transform":[{"filter":"datum.id == 'F-sub'"}],"mark":{"type":"text","font":"Liberation Serif","fontSize":11.5,"color":"#333333","align":"center","baseline":"middle","dx":9},"encoding":{"x":{"field":"g","type":"nominal"},"y":{"field":"v","type":"quantitative"},"text":{"field":"t"}}},
{"data":{"name":"txt"},"transform":[{"filter":"datum.id == 'F-lab'"}],"mark":{"type":"text","font":"Liberation Serif","fontSize":16,"fontWeight":"bold","color":"#111111","align":"left","baseline":"middle","dx":-50.2},"encoding":{"x":{"field":"g","type":"nominal"},"y":{"field":"v","type":"quantitative"},"text":{"field":"t"}}}
]}
]}
]}
],
"config":{
 "view":{"stroke":null},
 "axis":{"grid":false,"domainColor":"#1a1a1a","domainWidth":1.6,"tickColor":"#1a1a1a","tickWidth":1.5,"tickSize":4,"labelFont":"Liberation Sans","labelFontWeight":"bold","labelFontSize":9.5,"labelColor":"#111111","labelPadding":2,"titleFont":"Liberation Serif","titleFontWeight":"normal","titleFontSize":13,"titleColor":"#444444","titlePadding":2},
 "axisY":{"labelOverlap":false},
 "axisX":{"labelFont":"Liberation Serif","labelFontWeight":"normal","labelFontSize":12,"labelColor":"#222222","labelAngle":0,"labelBaseline":"top","labelLineHeight":14,"labelLimit":0}
}
}
